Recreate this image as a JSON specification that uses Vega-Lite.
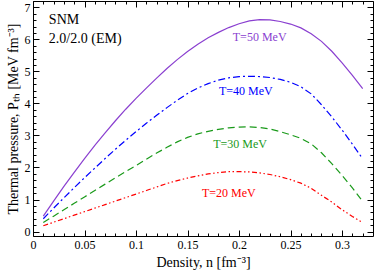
{
  "$schema": "https://vega.github.io/schema/vega-lite/v6.json",
  "width": 340,
  "height": 235,
  "autosize": {"type": "none"},
  "padding": {"left": 33, "top": 1, "right": 1, "bottom": 36},
  "background": "white",
  "config": {
    "view": {"stroke": "#000", "strokeWidth": 1},
    "axis": {
      "labelFont": "Liberation Serif", "labelFontSize": 12, "labelColor": "#000",
      "titleFont": "Liberation Serif", "titleFontSize": 14, "titleFontWeight": "normal", "titleColor": "#000",
      "tickColor": "#000", "domain": false, "grid": false, "labelFlush": false, "labelOverlap": false, "labelBound": false
    },
    "text": {"font": "Liberation Serif"}
  },
  "datasets": {
    "curves": [
      {"T":50,"n":0.01,"P":0.48},{"T":50,"n":0.02,"P":0.95},{"T":50,"n":0.03,"P":1.41},{"T":50,"n":0.04,"P":1.85},{"T":50,"n":0.05,"P":2.28},{"T":50,"n":0.06,"P":2.69},{"T":50,"n":0.07,"P":3.08},{"T":50,"n":0.08,"P":3.46},{"T":50,"n":0.09,"P":3.82},{"T":50,"n":0.10,"P":4.16},{"T":50,"n":0.11,"P":4.48},{"T":50,"n":0.12,"P":4.79},{"T":50,"n":0.13,"P":5.09},{"T":50,"n":0.14,"P":5.37},{"T":50,"n":0.15,"P":5.62},{"T":50,"n":0.16,"P":5.85},{"T":50,"n":0.17,"P":6.05},{"T":50,"n":0.18,"P":6.22},{"T":50,"n":0.19,"P":6.37},{"T":50,"n":0.20,"P":6.49},{"T":50,"n":0.21,"P":6.58},{"T":50,"n":0.22,"P":6.62},{"T":50,"n":0.23,"P":6.61},{"T":50,"n":0.24,"P":6.56},{"T":50,"n":0.25,"P":6.48},{"T":50,"n":0.26,"P":6.36},{"T":50,"n":0.27,"P":6.18},{"T":50,"n":0.28,"P":5.94},{"T":50,"n":0.29,"P":5.63},{"T":50,"n":0.30,"P":5.27},{"T":50,"n":0.31,"P":4.88},{"T":50,"n":0.32,"P":4.46},
      {"T":40,"n":0.01,"P":0.40},{"T":40,"n":0.02,"P":0.73},{"T":40,"n":0.03,"P":1.05},{"T":40,"n":0.04,"P":1.37},{"T":40,"n":0.05,"P":1.68},{"T":40,"n":0.06,"P":1.98},{"T":40,"n":0.07,"P":2.28},{"T":40,"n":0.08,"P":2.57},{"T":40,"n":0.09,"P":2.85},{"T":40,"n":0.10,"P":3.12},{"T":40,"n":0.11,"P":3.38},{"T":40,"n":0.12,"P":3.63},{"T":40,"n":0.13,"P":3.87},{"T":40,"n":0.14,"P":4.10},{"T":40,"n":0.15,"P":4.31},{"T":40,"n":0.16,"P":4.48},{"T":40,"n":0.17,"P":4.62},{"T":40,"n":0.18,"P":4.73},{"T":40,"n":0.19,"P":4.80},{"T":40,"n":0.20,"P":4.84},{"T":40,"n":0.21,"P":4.85},{"T":40,"n":0.22,"P":4.84},{"T":40,"n":0.23,"P":4.81},{"T":40,"n":0.24,"P":4.75},{"T":40,"n":0.25,"P":4.66},{"T":40,"n":0.26,"P":4.52},{"T":40,"n":0.27,"P":4.30},{"T":40,"n":0.28,"P":3.96},{"T":40,"n":0.29,"P":3.58},{"T":40,"n":0.30,"P":3.17},{"T":40,"n":0.31,"P":2.73},{"T":40,"n":0.32,"P":2.27},
      {"T":30,"n":0.01,"P":0.28},{"T":30,"n":0.02,"P":0.48},{"T":30,"n":0.03,"P":0.68},{"T":30,"n":0.04,"P":0.88},{"T":30,"n":0.05,"P":1.08},{"T":30,"n":0.06,"P":1.28},{"T":30,"n":0.07,"P":1.48},{"T":30,"n":0.08,"P":1.68},{"T":30,"n":0.09,"P":1.87},{"T":30,"n":0.10,"P":2.06},{"T":30,"n":0.11,"P":2.26},{"T":30,"n":0.12,"P":2.45},{"T":30,"n":0.13,"P":2.63},{"T":30,"n":0.14,"P":2.80},{"T":30,"n":0.15,"P":2.94},{"T":30,"n":0.16,"P":3.05},{"T":30,"n":0.17,"P":3.13},{"T":30,"n":0.18,"P":3.19},{"T":30,"n":0.19,"P":3.24},{"T":30,"n":0.20,"P":3.26},{"T":30,"n":0.21,"P":3.27},{"T":30,"n":0.22,"P":3.25},{"T":30,"n":0.23,"P":3.20},{"T":30,"n":0.24,"P":3.12},{"T":30,"n":0.25,"P":3.02},{"T":30,"n":0.26,"P":2.91},{"T":30,"n":0.27,"P":2.74},{"T":30,"n":0.28,"P":2.46},{"T":30,"n":0.29,"P":2.12},{"T":30,"n":0.30,"P":1.75},{"T":30,"n":0.31,"P":1.36},{"T":30,"n":0.32,"P":0.94},
      {"T":20,"n":0.01,"P":0.18},{"T":20,"n":0.02,"P":0.29},{"T":20,"n":0.03,"P":0.40},{"T":20,"n":0.04,"P":0.51},{"T":20,"n":0.05,"P":0.62},{"T":20,"n":0.06,"P":0.73},{"T":20,"n":0.07,"P":0.84},{"T":20,"n":0.08,"P":0.95},{"T":20,"n":0.09,"P":1.06},{"T":20,"n":0.10,"P":1.17},{"T":20,"n":0.11,"P":1.28},{"T":20,"n":0.12,"P":1.39},{"T":20,"n":0.13,"P":1.50},{"T":20,"n":0.14,"P":1.59},{"T":20,"n":0.15,"P":1.67},{"T":20,"n":0.16,"P":1.74},{"T":20,"n":0.17,"P":1.80},{"T":20,"n":0.18,"P":1.84},{"T":20,"n":0.19,"P":1.87},{"T":20,"n":0.20,"P":1.87},{"T":20,"n":0.21,"P":1.86},{"T":20,"n":0.22,"P":1.83},{"T":20,"n":0.23,"P":1.78},{"T":20,"n":0.24,"P":1.71},{"T":20,"n":0.25,"P":1.62},{"T":20,"n":0.26,"P":1.51},{"T":20,"n":0.27,"P":1.35},{"T":20,"n":0.28,"P":1.13},{"T":20,"n":0.29,"P":0.92},{"T":20,"n":0.30,"P":0.68},{"T":20,"n":0.31,"P":0.47},{"T":20,"n":0.32,"P":0.28}
    ],
    "labels": [
      {"lab":"T=50 MeV","T":50,"n":0.22,"P":6.07},
      {"lab":"T=40 MeV","T":40,"n":0.2065,"P":4.38},
      {"lab":"T=30 MeV","T":30,"n":0.201,"P":2.74},
      {"lab":"T=20 MeV","T":20,"n":0.19,"P":1.21}
    ],
    "notes": [
      {"txt":"SNM","n":0.0154,"P":6.6},
      {"txt":"2.0/2.0 (EM)","n":0.0154,"P":6.0}
    ]
  },
  "resolve": {"axis": {"x": "independent", "y": "independent"}},
  "layer": [
    {
      "data": {"name": "curves"},
      "transform": [{"filter": "datum.T == 50"}],
      "mark": {"type": "line", "color": "#8a3fd0", "strokeWidth": 1.2},
      "encoding": {
        "x": {"field": "n", "type": "quantitative", "scale": {"domain": [0, 0.33], "nice": false, "zero": false},
              "axis": {"orient": "bottom", "values": [0,0.05,0.1,0.15,0.2,0.25,0.3], "format": "~g", "tickSize": -6, "labelPadding": 9, "title": "Density, n [fm⁻³]", "titlePadding": 5}},
        "y": {"field": "P", "type": "quantitative", "scale": {"domain": [-0.14, 7.2], "nice": false, "zero": false},
              "axis": {"orient": "left", "values": [0,1,2,3,4,5,6,7], "format": "d", "tickSize": -6, "labelPadding": 9, "title": "Thermal pressure, Pₜₕ [MeV fm⁻³]", "titlePadding": 4}}
      }
    },
    {
      "data": {"name": "curves"},
      "transform": [{"filter": "datum.T == 40"}],
      "mark": {"type": "line", "color": "#0000ff", "strokeWidth": 1.2, "strokeDash": [7, 3, 2, 3]},
      "encoding": {
        "x": {"field": "n", "type": "quantitative",
              "axis": {"orient": "bottom", "values": [0.01,0.02,0.03,0.04,0.06,0.07,0.08,0.09,0.11,0.12,0.13,0.14,0.16,0.17,0.18,0.19,0.21,0.22,0.23,0.24,0.26,0.27,0.28,0.29,0.31,0.32], "labels": false, "tickSize": -3, "title": null}},
        "y": {"field": "P", "type": "quantitative",
              "axis": {"orient": "left", "values": [0.2,0.4,0.6,0.8,1.2,1.4,1.6,1.8,2.2,2.4,2.6,2.8,3.2,3.4,3.6,3.8,4.2,4.4,4.6,4.8,5.2,5.4,5.6,5.8,6.2,6.4,6.6,6.8,7.2], "labels": false, "tickSize": -3, "title": null}}
      }
    },
    {
      "data": {"name": "curves"},
      "transform": [{"filter": "datum.T == 30"}],
      "mark": {"type": "line", "color": "#1a9a1a", "strokeWidth": 1.2, "strokeDash": [7, 4]},
      "encoding": {
        "x": {"field": "n", "type": "quantitative",
              "axis": {"orient": "top", "values": [0,0.05,0.1,0.15,0.2,0.25,0.3], "labels": false, "tickSize": -6, "title": null}},
        "y": {"field": "P", "type": "quantitative",
              "axis": {"orient": "right", "values": [0,1,2,3,4,5,6,7], "labels": false, "tickSize": -6, "title": null}}
      }
    },
    {
      "data": {"name": "curves"},
      "transform": [{"filter": "datum.T == 20"}],
      "mark": {"type": "line", "color": "#ff0000", "strokeWidth": 1.2, "strokeDash": [5, 2.5, 1.5, 2.5, 1.5, 2.5]},
      "encoding": {
        "x": {"field": "n", "type": "quantitative",
              "axis": {"orient": "top", "values": [0.01,0.02,0.03,0.04,0.06,0.07,0.08,0.09,0.11,0.12,0.13,0.14,0.16,0.17,0.18,0.19,0.21,0.22,0.23,0.24,0.26,0.27,0.28,0.29,0.31,0.32], "labels": false, "tickSize": -3, "title": null}},
        "y": {"field": "P", "type": "quantitative",
              "axis": {"orient": "right", "values": [0.2,0.4,0.6,0.8,1.2,1.4,1.6,1.8,2.2,2.4,2.6,2.8,3.2,3.4,3.6,3.8,4.2,4.4,4.6,4.8,5.2,5.4,5.6,5.8,6.2,6.4,6.6,6.8,7.2], "labels": false, "tickSize": -3, "title": null}}
      }
    },
    {
      "data": {"name": "labels"},
      "mark": {"type": "text", "font": "Liberation Serif", "fontSize": 12, "align": "center", "baseline": "middle"},
      "encoding": {
        "x": {"field": "n", "type": "quantitative", "axis": null},
        "y": {"field": "P", "type": "quantitative", "axis": null},
        "text": {"field": "lab"},
        "color": {"field": "T", "type": "nominal", "scale": {"domain": [50, 40, 30, 20], "range": ["#8a3fd0", "#0000ff", "#1a9a1a", "#ff0000"]}, "legend": null}
      }
    },
    {
      "data": {"name": "notes"},
      "mark": {"type": "text", "font": "Liberation Serif", "fontSize": 14, "align": "left", "baseline": "middle", "color": "#000"},
      "encoding": {
        "x": {"field": "n", "type": "quantitative", "axis": null},
        "y": {"field": "P", "type": "quantitative", "axis": null},
        "text": {"field": "txt"}
      }
    }
  ]
}
